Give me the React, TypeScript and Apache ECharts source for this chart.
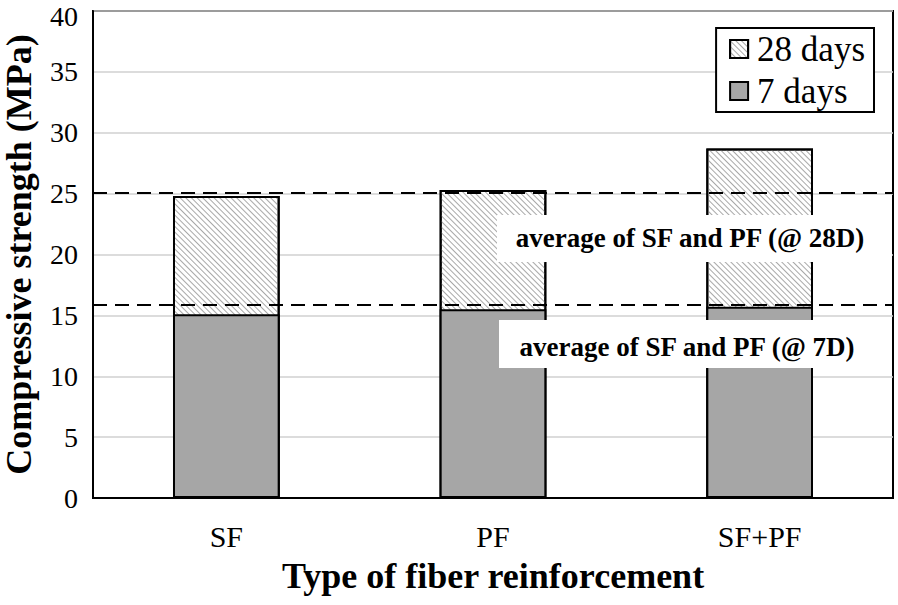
import React, { useEffect, useRef } from "react";
import * as echarts from "echarts";

const categories = ["SF", "PF", "SF+PF"];
const days28 = [24.8, 25.3, 28.7];
const days7 = [15.1, 15.5, 15.7];
const avg28 = 25.08;
const avg7 = 15.85;
const yTicks = { min: 0, max: 40, interval: 5 };
const label28 = "average of SF and PF (@ 28D)";
const label7 = "average of SF and PF (@ 7D)";

const FONT = "Liberation Serif";

export default function App() {
  const ref = useRef<HTMLDivElement>(null);
  useEffect(() => {
    if (!ref.current) return;
    const chart = echarts.init(ref.current, null, { renderer: "svg" });
    const hatch = {
      symbol: "rect",
      symbolSize: 1,
      dashArrayX: [1, 0],
      dashArrayY: [1, 3],
      rotation: Math.PI / 4,
      color: "#a8a8a8",
    };
    chart.setOption({
      animation: false,
      textStyle: { fontFamily: FONT },
      grid: {
        left: 93,
        right: 5,
        top: 11,
        bottom: 107,
        outerBoundsMode: "none",
        containLabel: false,
        show: true,
        borderColor: "#000",
        borderWidth: 2,
        backgroundColor: "transparent",
      },
      legend: {
        right: 24,
        top: 28,
        orient: "vertical",
        backgroundColor: "#fff",
        borderColor: "#000",
        borderWidth: 2,
        borderRadius: 0,
        padding: [3, 9, 3, 13],
        itemGap: 6,
        itemWidth: 18,
        itemHeight: 18,
        icon: "rect",
        textStyle: { fontFamily: FONT, fontSize: 35, lineHeight: 36, color: "#000", padding: [0, 0, 0, 4] },
        data: ["28 days", "7 days"],
      },
      xAxis: {
        type: "category",
        data: categories,
        axisLine: { show: true, lineStyle: { color: "#000", width: 2 } },
        axisTick: { show: false },
        axisLabel: { fontFamily: FONT, fontSize: 30, color: "#000", margin: 23 },
        name: "Type of fiber reinforcement",
        nameLocation: "middle",
        nameGap: 60,
        nameTextStyle: { fontFamily: FONT, fontSize: 36, fontWeight: "bold", color: "#000" },
      },
      yAxis: {
        type: "value",
        min: yTicks.min,
        max: yTicks.max,
        interval: yTicks.interval,
        axisLine: { show: true, lineStyle: { color: "#000", width: 2 } },
        axisTick: { show: false },
        axisLabel: {
          fontFamily: FONT,
          fontSize: 28,
          color: "#000",
          margin: 15,
          formatter: (v: number) => (v === yTicks.max ? `{top|${v}}` : `${v}`),
          rich: {
            top: { fontFamily: FONT, fontSize: 28, color: "#000", padding: [10, 0, 0, 0] },
          },
        },
        splitLine: { show: true, lineStyle: { color: "#d0d0d0", width: 1.5 } },
        name: "Compressive strength (MPa)",
        nameLocation: "middle",
        nameGap: 56,
        nameTextStyle: { fontFamily: FONT, fontSize: 36, fontWeight: "bold", color: "#000" },
      },
      series: [
        {
          name: "28 days",
          type: "bar",
          data: days28,
          barWidth: "40%",
          barGap: "-100%",
          itemStyle: { color: "#fff", borderColor: "#000", borderWidth: 2, decal: hatch },
          z: 2,
        },
        {
          name: "7 days",
          type: "bar",
          data: days7,
          barWidth: "40%",
          barGap: "-100%",
          itemStyle: { color: "#a6a6a6", borderColor: "#000", borderWidth: 2 },
          z: 3,
          markLine: {
            silent: true,
            symbol: "none",
            label: { show: false },
            lineStyle: { color: "#000", type: [14, 8], width: 2 },
            data: [{ yAxis: avg28 }, { yAxis: avg7 }],
            z: 5,
          },
        },
      ],
      graphic: [
        {
          type: "rect",
          z: 50,
          shape: { x: 497, y: 215, width: 395, height: 47 },
          style: { fill: "#fff" },
        },
        {
          type: "text",
          z: 51,
          x: 690,
          y: 238,
          style: {
            text: label28,
            fontFamily: FONT,
            fontSize: 27,
            fontWeight: "bold",
            fill: "#000",
            align: "center",
            verticalAlign: "middle",
          },
        },
        {
          type: "rect",
          z: 50,
          shape: { x: 499, y: 320, width: 393, height: 48 },
          style: { fill: "#fff" },
        },
        {
          type: "text",
          z: 51,
          x: 687,
          y: 347,
          style: {
            text: label7,
            fontFamily: FONT,
            fontSize: 27,
            fontWeight: "bold",
            fill: "#000",
            align: "center",
            verticalAlign: "middle",
          },
        },
      ],
    });
    return () => chart.dispose();
  }, []);
  return <div ref={ref} style={{ width: 898, height: 605, position: "absolute", left: 0, top: 0 }} />;
}
